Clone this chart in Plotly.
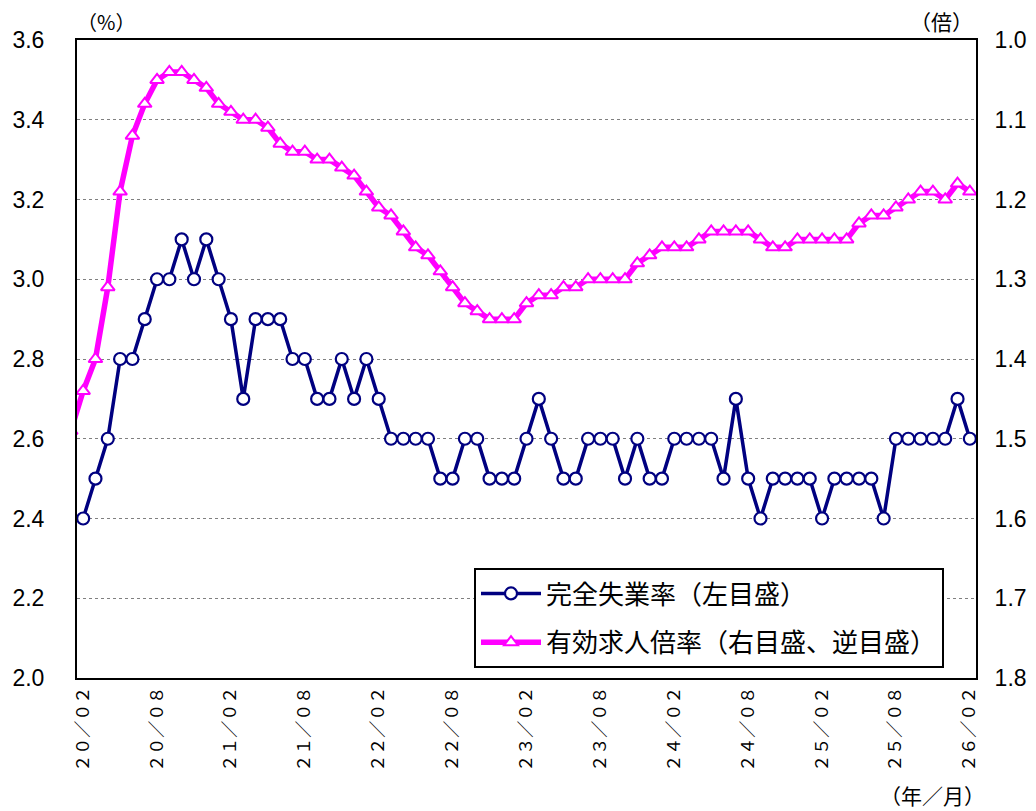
import plotly.graph_objects as go

# Month categories: 2020/01 .. 2026/02 (20/01 only carries the clipped lead-in of the ratio line)
months = []
for yy in range(2020, 2027):
    for mm in range(1, 13):
        if (yy, mm) <= (2026, 2):
            months.append(f"{yy % 100:02d}/{mm:02d}")

# 完全失業率 (%), from 2020/02
unemployment = [
    2.4, 2.5, 2.6, 2.8, 2.8, 2.9, 3.0, 3.0, 3.1, 3.0, 3.1, 3.0,
    2.9, 2.7, 2.9, 2.9, 2.9, 2.8, 2.8, 2.7, 2.7, 2.8, 2.7, 2.8,
    2.7, 2.6, 2.6, 2.6, 2.6, 2.5, 2.5, 2.6, 2.6, 2.5, 2.5, 2.5,
    2.6, 2.7, 2.6, 2.5, 2.5, 2.6, 2.6, 2.6, 2.5, 2.6, 2.5, 2.5,
    2.6, 2.6, 2.6, 2.6, 2.5, 2.7, 2.5, 2.4, 2.5, 2.5, 2.5, 2.5,
    2.4, 2.5, 2.5, 2.5, 2.5, 2.4, 2.6, 2.6, 2.6, 2.6, 2.6, 2.7, 2.6,
]
# 有効求人倍率 (倍), from 2020/01
job_ratio = [
    1.49,
    1.44, 1.40, 1.31, 1.19, 1.12, 1.08, 1.05, 1.04, 1.04, 1.05, 1.06, 1.08,
    1.09, 1.10, 1.10, 1.11, 1.13, 1.14, 1.14, 1.15, 1.15, 1.16, 1.17, 1.19,
    1.21, 1.22, 1.24, 1.26, 1.27, 1.29, 1.31, 1.33, 1.34, 1.35, 1.35, 1.35,
    1.33, 1.32, 1.32, 1.31, 1.31, 1.30, 1.30, 1.30, 1.30, 1.28, 1.27, 1.26,
    1.26, 1.26, 1.25, 1.24, 1.24, 1.24, 1.24, 1.25, 1.26, 1.26, 1.25, 1.25,
    1.25, 1.25, 1.25, 1.23, 1.22, 1.22, 1.21, 1.20, 1.19, 1.19, 1.20, 1.18, 1.19,
]

tick_months = months[1::6]
fw = str.maketrans("0123456789/", "０１２３４５６７８９／")
tick_text = [m.translate(fw) for m in tick_months]

left_ticks = [2.0, 2.2, 2.4, 2.6, 2.8, 3.0, 3.2, 3.4, 3.6]
right_ticks = [1.0, 1.1, 1.2, 1.3, 1.4, 1.5, 1.6, 1.7, 1.8]

NUM_FONT = "Liberation Sans, Arial, sans-serif"
JP_FONT = "Noto Sans CJK JP"

fig = go.Figure()
fig.add_trace(go.Scatter(
    x=months[1:], y=unemployment, name="完全失業率（左目盛）",
    legendgroup="u",
    mode="lines+markers",
    line=dict(color="#000080", width=3.5),
    marker=dict(symbol="circle", size=12, color="white",
                line=dict(color="#000080", width=2.2)),
    yaxis="y",
))
fig.add_trace(go.Scatter(
    x=months, y=job_ratio, name="有効求人倍率（右目盛、逆目盛）",
    legendgroup="r",
    mode="lines+markers",
    line=dict(color="#FF00FF", width=5.5),
    marker=dict(symbol="triangle-up", size=12, color="white",
                line=dict(color="#FF00FF", width=2)),
    yaxis="y2",
))

fig.update_layout(
    width=1036, height=811,
    margin=dict(l=77, r=60, t=40, b=133, autoexpand=False),
    paper_bgcolor="white", plot_bgcolor="white",
    showlegend=True,
    legend=dict(
        x=(944 - 77) / 899, y=(678 - 668) / 638, xanchor="right", yanchor="bottom",
        bordercolor="black", borderwidth=2, bgcolor="white",
        font=dict(family=JP_FONT, size=26, color="black"),
        itemwidth=60, tracegroupgap=12,
    ),
    xaxis=dict(
        type="category", categoryorder="array", categoryarray=months,
        range=[0.5, len(months) - 0.5], automargin=False,
        tickmode="array", tickvals=tick_months, ticktext=tick_text,
        tickangle=-90, ticks="", ticklabelstandoff=0,
        tickfont=dict(family=JP_FONT, size=17, color="black"),
        showgrid=False, showline=True, linecolor="black", linewidth=2,
        mirror=True, zeroline=False,
    ),
    yaxis=dict(
        range=[2.0, 3.6], tickmode="array", tickvals=left_ticks,
        ticktext=[f"{v:.1f}" for v in left_ticks], automargin=False,
        ticks="", ticklabelstandoff=26,
        tickfont=dict(family=NUM_FONT, size=23, color="black"),
        showgrid=True, gridcolor="#808080", gridwidth=1, griddash="dot",
        showline=True, linecolor="black", linewidth=2, mirror=True,
        zeroline=False,
    ),
    yaxis2=dict(
        range=[1.8, 1.0], overlaying="y", side="right", automargin=False,
        tickmode="array", tickvals=right_ticks,
        ticktext=[f"{v:.1f}" for v in right_ticks],
        ticks="", ticklabelstandoff=12,
        tickfont=dict(family=NUM_FONT, size=23, color="black"),
        showgrid=False, showline=True, linecolor="black", linewidth=2,
        zeroline=False,
    ),
    annotations=[
        dict(text="（%）", xref="paper", yref="paper", x=(106 - 77) / 899,
             y=1 + 19 / 638, xanchor="center", yanchor="middle",
             showarrow=False, font=dict(family=JP_FONT, size=20, color="black")),
        dict(text="（倍）", xref="paper", yref="paper", x=(941 - 77) / 899,
             y=1 + 19 / 638, xanchor="center", yanchor="middle",
             showarrow=False, font=dict(family=JP_FONT, size=21, color="black")),
        dict(text="（年／月）", xref="paper", yref="paper", x=(932 - 77) / 899,
             y=-(795 - 678) / 638, xanchor="center", yanchor="middle",
             showarrow=False, font=dict(family=JP_FONT, size=21, color="black")),
    ],
)

fig.write_html("out.html", config={"displayModeBar": False},
               post_script="document.body.style.margin='0';")
